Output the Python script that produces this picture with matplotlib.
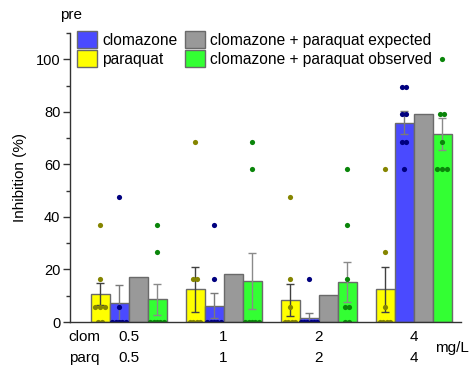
import numpy as np
import matplotlib
matplotlib.use("Agg")
import matplotlib.pyplot as plt
from matplotlib.ticker import MultipleLocator
from matplotlib.patches import Patch

plt.rcParams['font.family'] = ['Liberation Sans', 'DejaVu Sans']

# Doses (mg/L)
clom_doses = ["0.5", "1", "2", "4"]
parq_doses = ["0.5", "1", "2", "4"]

# Mean inhibition (%) per treatment
paraquat_mean = [10.6, 12.4, 8.4, 12.4]
clomazone_mean = [7.3, 6.2, 1.5, 75.9]
expected_mean = [17.2, 18.1, 10.3, 79.1]
observed_mean = [8.6, 15.6, 15.2, 71.5]

# Error bar half-widths
paraquat_err = [4.2, 8.5, 6.0, 8.6]
clomazone_err = [6.9, 4.8, 2.0, 4.3]
observed_err = [6.0, 10.6, 7.6, 6.0]

# Individual replicates
paraquat_pts = [
    [37.0, 16.4, 5.8, 5.8, 5.8, 0, 0],
    [68.5, 16.4, 16.4, 0, 0, 0, 0],
    [47.6, 16.4, 5.8, 0, 0, 0, 0],
    [58.3, 26.8, 5.8, 0, 0, 0, 0],
]
clomazone_pts = [
    [47.6, 5.8, 0, 0, 0, 0, 0],
    [37.0, 16.4, 0, 0, 0, 0, 0],
    [16.4, 0, 0, 0, 0, 0, 0],
    [89.5, 89.5, 79.0, 79.0, 68.5, 68.5, 58.3],
]
observed_pts = [
    [37.0, 26.8, 0, 0, 0, 0, 0],
    [68.5, 58.3, 0, 0, 0, 0, 0],
    [58.3, 37.0, 16.4, 5.8, 5.8, 0, 0],
    [100.0, 79.0, 79.0, 68.5, 58.3, 58.3, 58.3],
]

W, H = 470, 369
fig = plt.figure(figsize=(W / 100, H / 100), dpi=100)
ax = fig.add_axes([70 / W, 1 - 322 / H, (461 - 70) / W, (322 - 33) / H])

x = np.arange(len(clom_doses))
w = 0.2
edge = "#6a6a6a"
c_yel, c_blu, c_gry, c_grn = "#ffff00", "#4a4aff", "#999999", "#33ff33"

ax.bar(x - 1.5 * w, paraquat_mean, w, color=c_yel, edgecolor=edge, linewidth=1, zorder=2)
ax.bar(x - 0.5 * w, clomazone_mean, w, color=c_blu, edgecolor=edge, linewidth=1, zorder=2)
ax.bar(x + 0.5 * w, expected_mean, w, color=c_gry, edgecolor=edge, linewidth=1, zorder=2)
ax.bar(x + 1.5 * w, observed_mean, w, color=c_grn, edgecolor=edge, linewidth=1, zorder=2)

ekw = dict(fmt="none", capsize=3, elinewidth=1, capthick=1, zorder=3)
ax.errorbar(x - 1.5 * w, paraquat_mean, yerr=paraquat_err, ecolor="#404040", **ekw)
ax.errorbar(x - 0.5 * w, clomazone_mean, yerr=clomazone_err, ecolor="#7a7a7a", **ekw)
ax.errorbar(x + 1.5 * w, observed_mean, yerr=observed_err, ecolor="#8a8a8a", **ekw)


def swarm(ax, centers, groups, color):
    d = 0.05
    for cx, vals in zip(centers, groups):
        for v in sorted(set(vals)):
            n = vals.count(v)
            offs = (np.arange(n) - (n - 1) / 2) * (0.035 if v == 0 else d)
            ax.scatter(cx + offs, [v] * n, s=14, color=color, zorder=4,
                       linewidths=0, clip_on=(v == 0))


swarm(ax, x - 1.5 * w, paraquat_pts, "#858500")
swarm(ax, x - 0.5 * w, clomazone_pts, "#00007f")
swarm(ax, x + 1.5 * w, observed_pts, "#0a850a")

ax.set_xlim(-0.616, 3.5)
ax.set_ylim(0, 110)
ax.set_yticks([0, 20, 40, 60, 80, 100])
ax.yaxis.set_minor_locator(MultipleLocator(10))
ax.tick_params(axis="y", which="major", direction="out", length=5, width=1,
               labelsize=10.5, color="#333333", pad=2)
ax.tick_params(axis="y", which="minor", direction="out", length=3, width=1,
               color="#333333")
ax.set_xticks([])
for s in ("top", "right"):
    ax.spines[s].set_visible(False)
for s in ("left", "bottom"):
    ax.spines[s].set_color("#333333")
    ax.spines[s].set_linewidth(1)
    ax.spines[s].set_zorder(5)

ax.set_ylabel("Inhibition (%)", fontsize=11, labelpad=6)

handles = [
    Patch(facecolor=c_blu, edgecolor=edge, label="clomazone"),
    Patch(facecolor=c_yel, edgecolor=edge, label="paraquat"),
    Patch(facecolor=c_gry, edgecolor=edge, label="clomazone + paraquat expected"),
    Patch(facecolor=c_grn, edgecolor=edge, label="clomazone + paraquat observed"),
]
fig.legend(handles=handles, ncols=2, loc="upper left",
           bbox_to_anchor=(77 / W, 1 - 31 / H), frameon=False, fontsize=11.2,
           handlelength=1.3, handleheight=1.3, handletextpad=0.3,
           columnspacing=0.5, labelspacing=0.15, borderpad=0, borderaxespad=0)

fig.text(60 / W, 1 - 15 / H, "pre", fontsize=11, va="center", ha="left")

# Dose labels under the groups
tr = ax.get_xaxis_transform()
for xi, cl, pq in zip(x, clom_doses, parq_doses):
    ax.text(xi, -15 / 289, cl, transform=tr, ha="center", va="center", fontsize=11)
    ax.text(xi, -36 / 289, pq, transform=tr, ha="center", va="center", fontsize=11)
fig.text(68 / W, 1 - 337 / H, "clom", fontsize=11, va="center", ha="left")
fig.text(69 / W, 1 - 358 / H, "parq", fontsize=11, va="center", ha="left")
fig.text(435 / W, 1 - 348 / H, "mg/L", fontsize=11, va="center", ha="left")

fig.savefig("out.png", dpi=100)
